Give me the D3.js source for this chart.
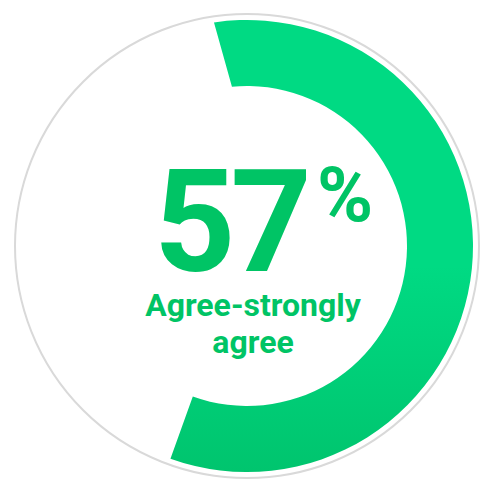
<!doctype html>
<html>
<head>
<meta charset="utf-8">
<script src="https://d3js.org/d3.v7.min.js"></script>
<style>
  body { margin: 0; background: #fff; }
</style>
</head>
<body>
<script>
// data
var value = 57;
var valueLabel = ["57", "%"];
var caption = ["Agree-strongly", "agree"];

var width = 500, height = 500;
var cx = 247, cy = 246;
var ringR = 232, outerR = 226, innerR = 160;
var green = "#00c465";

var svg = d3.select("body").append("svg")
    .attr("width", width)
    .attr("height", height);

var defs = svg.append("defs");
var grad = defs.append("linearGradient")
    .attr("id", "g1")
    .attr("gradientUnits", "userSpaceOnUse")
    .attr("x1", 0).attr("y1", cy - outerR)
    .attr("x2", 0).attr("y2", cy + outerR);
grad.append("stop").attr("offset", "0%").attr("stop-color", "#00da83");
grad.append("stop").attr("offset", "100%").attr("stop-color", "#00ab55");

var g = svg.append("g").attr("transform", "translate(" + cx + "," + cy + ")");

// outer thin ring
g.append("circle")
    .attr("r", ringR)
    .attr("fill", "none")
    .attr("stroke", "#d9d9d9")
    .attr("stroke-width", 2);

// angle scale (percent -> radians, starting a bit left of top)
var angle = d3.scaleLinear()
    .domain([0, 100])
    .range([-5.4 * Math.PI / 180, -5.4 * Math.PI / 180 + 2 * Math.PI]);

var skew = -3 * Math.PI / 180; // start edge leans a little

function ringPath(v) {
  var a0 = angle(0), a1 = angle(v);
  var p = d3.path();
  var o0 = a0 + skew - Math.PI / 2, o1 = a1 - Math.PI / 2;
  var i0 = a0 - Math.PI / 2;
  p.moveTo(outerR * Math.cos(o0), outerR * Math.sin(o0));
  p.arc(0, 0, outerR, o0, o1, false);
  p.lineTo(innerR * Math.cos(o1), innerR * Math.sin(o1));
  p.arc(0, 0, innerR, o1, i0, true);
  p.closePath();
  return p.toString();
}

g.append("path")
    .attr("d", ringPath(value))
    .attr("fill", "url(#g1)");

// big number
var num = svg.append("text")
    .attr("x", 154)
    .attr("y", 271)
    .attr("font-family", "Roboto")
    .attr("font-weight", "bold")
    .attr("fill", green);
num.append("tspan")
    .attr("font-size", 142)
    .attr("letter-spacing", "-5")
    .text(valueLabel[0]);
num.append("tspan")
    .attr("font-size", 76)
    .attr("dx", 10)
    .attr("dy", -50)
    .text(valueLabel[1]);

svg.selectAll(".cap")
    .data(caption)
    .enter().append("text")
    .attr("class", "cap")
    .attr("x", 253)
    .attr("y", function(d, i) { return 316 + i * 37; })
    .attr("text-anchor", "middle")
    .attr("font-family", "Roboto")
    .attr("font-weight", "bold")
    .attr("font-size", 32)
    .attr("fill", green)
    .text(function(d) { return d; });
</script>
</body>
</html>
